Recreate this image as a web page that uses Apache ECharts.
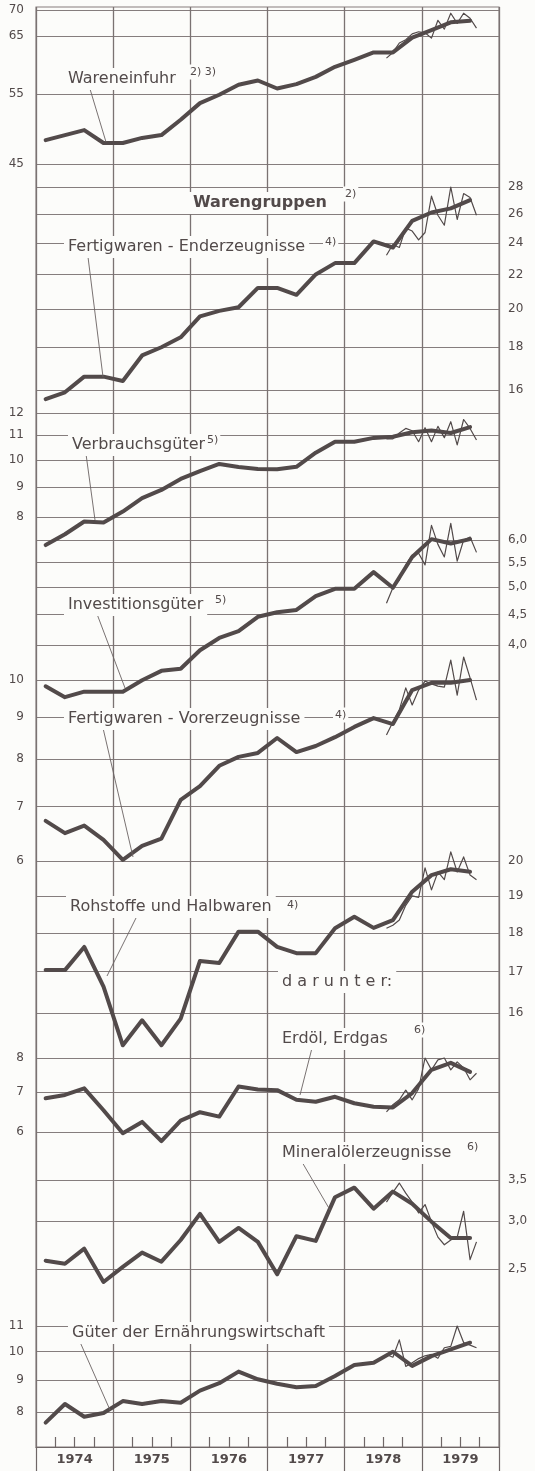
<!DOCTYPE html>
<html>
<head>
<meta charset="utf-8">
<script src="https://cdn.jsdelivr.net/npm/echarts@6/dist/echarts.min.js"></script>
<style>
  html, body { margin: 0; padding: 0; background: #fcfcfa; }
  #chart { width: 535px; height: 1471px; }
</style>
</head>
<body>
<div id="chart"></div>
<script>
// Jahre der x-Achse, Quartalswerte ab 1. Vj. 1974, Monatswerte ab Juli 1978
const years = ['1974', '1975', '1976', '1977', '1978', '1979'];
const monthStart = 54; // Juli 1978, Monate ab Jan 1974

const wareneinfuhr = [48.2, 48.9, 49.6, 47.8, 47.8, 48.5, 48.9, 51.1, 53.6, 54.9, 56.5, 57.2, 55.9, 56.6, 57.8, 59.5, 60.7, 62.0, 62.0, 64.7, 66.1, 67.6, 67.9];
const wareneinfuhrMonat = [61.0, 62.0, 63.7, 64.3, 65.4, 65.8, 65.6, 64.6, 68.0, 66.3, 69.4, 67.4, 69.4, 68.4, 66.5];

const enderzeugnisse = [15.6, 15.9, 16.6, 16.6, 16.4, 17.6, 18.0, 18.5, 19.6, 19.9, 20.1, 21.2, 21.2, 20.8, 22.0, 22.7, 22.7, 24.1, 23.7, 25.5, 26.1, 26.4, 27.0];
const enderzeugnisseMonat = [23.2, 23.9, 23.7, 25.0, 24.8, 24.2, 24.7, 27.3, 25.9, 25.2, 28.0, 25.6, 27.5, 27.2, 25.9];

const verbrauchsgueter = [7.17, 7.48, 7.86, 7.83, 8.17, 8.61, 8.89, 9.28, 9.57, 9.84, 9.72, 9.65, 9.64, 9.73, 10.28, 10.73, 10.73, 10.89, 10.94, 11.13, 11.21, 11.1, 11.36];
const verbrauchsgueterMonat = [10.85, 10.85, 11.1, 11.3, 11.2, 10.73, 11.33, 10.73, 11.39, 10.9, 11.6, 10.6, 11.7, 11.3, 10.8];

const investitionsgueter = [3.41, 3.27, 3.34, 3.34, 3.34, 3.49, 3.62, 3.65, 3.92, 4.11, 4.22, 4.46, 4.54, 4.58, 4.83, 4.97, 4.97, 5.30, 4.99, 5.62, 6.02, 5.92, 6.02];
const investitionsgueterMonat = [4.70, 4.99, 5.14, 5.45, 5.66, 5.70, 5.45, 6.35, 5.9, 5.62, 6.40, 5.53, 6.0, 6.07, 5.72];

const vorerzeugnisse = [6.72, 6.49, 6.63, 6.37, 6.02, 6.26, 6.39, 7.13, 7.41, 7.85, 8.05, 8.14, 8.49, 8.16, 8.30, 8.51, 8.76, 8.98, 8.83, 9.72, 9.92, 9.92, 10.0];
const vorerzeugnisseMonat = [8.56, 8.88, 9.19, 9.78, 9.32, 9.72, 9.97, 9.89, 9.83, 9.80, 10.58, 9.58, 10.67, 10.06, 9.45];

const rohstoffe = [17.04, 17.04, 17.63, 16.63, 15.26, 15.83, 15.26, 15.87, 17.27, 17.22, 18.03, 18.03, 17.63, 17.47, 17.47, 18.12, 18.43, 18.13, 18.34, 19.12, 19.59, 19.76, 19.69];
const rohstoffeMonat = [18.12, 18.2, 18.34, 18.74, 19.0, 18.96, 19.80, 19.17, 19.68, 19.46, 20.27, 19.68, 20.12, 19.59, 19.46];

const erdoel = [6.84, 6.93, 7.11, 6.53, 5.97, 6.24, 5.79, 6.27, 6.48, 6.37, 7.16, 7.08, 7.06, 6.80, 6.75, 6.88, 6.71, 6.62, 6.60, 6.98, 7.64, 7.85, 7.58];
const erdoelMonat = [6.49, 6.67, 6.80, 7.06, 6.80, 7.10, 8.0, 7.64, 7.94, 8.0, 7.64, 7.88, 7.70, 7.35, 7.54];

const mineraloel = [2.58, 2.55, 2.70, 2.38, 2.52, 2.66, 2.57, 2.79, 3.08, 2.77, 2.92, 2.77, 2.45, 2.83, 2.78, 3.28, 3.40, 3.14, 3.35, 3.20, 2.99, 2.81, 2.81];
const mineraloelMonat = [3.22, 3.34, 3.46, 3.33, 3.22, 3.09, 3.19, 2.99, 2.82, 2.74, 2.79, 2.82, 3.11, 2.59, 2.77];

const ernaehrung = [7.69, 8.24, 7.86, 7.97, 8.33, 8.24, 8.33, 8.28, 8.66, 8.90, 9.29, 9.03, 8.88, 8.77, 8.81, 9.14, 9.52, 9.60, 10.0, 9.49, 9.84, 10.09, 10.34];
const ernaehrungMonat = [9.9, 9.8, 10.45, 9.47, 9.6, 9.75, 9.85, 9.9, 9.76, 10.15, 10.2, 11.0, 10.35, 10.25, 10.15];

// Beschriftung der log. Achsen
const ticksWareneinfuhr = [70, 65, 55, 45];
const ticksEnderzeugnisse = [28, 26, 24, 22, 20, 18, 16];
const ticksVerbrauch = [12, 11, 10, 9, 8];
const ticksInvestition = [6, 5.5, 5, 4.5, 4];
const ticksVorerzeugnisse = [10, 9, 8, 7, 6];
const ticksRohstoffe = [20, 19, 18, 17, 16];
const ticksErdoel = [8, 7, 6];
const ticksMineraloel = [3.5, 3, 2.5];
const ticksErnaehrung = [11, 10, 9, 8];

const PLOT_TOP = 7, PLOT_BOTTOM = 1447;
const INK = '#524a4a', GRID = '#857d7d', BG = '#fcfcfa';
const FONT = '"DejaVu Sans", sans-serif';

// cal: zwei Achswerte und ihre Bildhöhe -> min/max der log. Achse
const panels = [
  { q: wareneinfuhr, m: wareneinfuhrMonat, ticks: ticksWareneinfuhr, side: 'left', cal: [65, 36, 45, 164] },
  { q: enderzeugnisse, m: enderzeugnisseMonat, ticks: ticksEnderzeugnisse, side: 'right', cal: [28, 187, 16, 390] },
  { q: verbrauchsgueter, m: verbrauchsgueterMonat, ticks: ticksVerbrauch, side: 'left', cal: [12, 413, 8, 517] },
  { q: investitionsgueter, m: investitionsgueterMonat, ticks: ticksInvestition, side: 'right', cal: [6, 540, 4, 645], dec: 1 },
  { q: vorerzeugnisse, m: vorerzeugnisseMonat, ticks: ticksVorerzeugnisse, side: 'left', cal: [10, 680, 6, 861] },
  { q: rohstoffe, m: rohstoffeMonat, ticks: ticksRohstoffe, side: 'right', cal: [20, 861, 16, 1013] },
  { q: erdoel, m: erdoelMonat, ticks: ticksErdoel, side: 'left', cal: [8, 1058, 6, 1132] },
  { q: mineraloel, m: mineraloelMonat, ticks: ticksMineraloel, side: 'right', cal: [3.5, 1180, 2.5, 1269], dec: 1 },
  { q: ernaehrung, m: ernaehrungMonat, ticks: ticksErnaehrung, side: 'left', cal: [11, 1326, 8, 1412] }
];

function logRange(v1, y1, v2, y2) {
  const k = (y2 - y1) / Math.log10(v1 / v2);
  return {
    max: v1 * Math.pow(10, (y1 - PLOT_TOP) / k),
    min: v2 / Math.pow(10, (PLOT_BOTTOM - y2) / k)
  };
}

const yAxes = panels.map(p => {
  const r = logRange(p.cal[0], p.cal[1], p.cal[2], p.cal[3]);
  return {
    type: 'log',
    logBase: 10,
    min: r.min,
    max: r.max,
    position: p.side,
    axisLine: { show: false },
    axisTick: { show: false, customValues: p.ticks },
    axisLabel: {
      customValues: p.ticks,
      margin: p.side === 'left' ? 12 : 9,
      color: INK,
      fontSize: 12,
      fontFamily: FONT,
      formatter: v => p.dec ? Number(v).toFixed(1).replace('.', ',') : String(Math.round(v))
    },
    splitLine: { show: true, lineStyle: { color: GRID, width: 1.1 } }
  };
});

const series = [];
panels.forEach((p, i) => {
  series.push({
    type: 'line', yAxisIndex: i, z: 2, symbol: 'none', silent: true,
    data: p.m.map((v, j) => [monthStart + j + 0.5, v]),
    lineStyle: { color: INK, width: 1.2, join: 'round' }
  });
  series.push({
    type: 'line', yAxisIndex: i, z: 3, symbol: 'none', silent: true,
    data: p.q.map((v, j) => [3 * j + 1.5, v]),
    lineStyle: { color: INK, width: 4, join: 'round', cap: 'round' }
  });
});

const yearCenters = years.map((y, i) => 12 * i + 6);
const quarterTicks = [];
years.forEach((y, i) => { [3, 6, 9].forEach(m => quarterTicks.push(12 * i + m)); });

// Beschriftungen mit Hinweislinien
const notes = [
  { text: 'Wareneinfuhr', x: 68, y: 79, sup: '2) 3)', sx: 190, sy: 72, line: [90, 89, 106, 142] },
  { text: 'Warengruppen', x: 193, y: 203, bold: true, sup: '2)', sx: 345, sy: 194 },
  { text: 'Fertigwaren - Enderzeugnisse', x: 68, y: 247, sup: '4)', sx: 325, sy: 242, line: [88, 257, 103, 377] },
  { text: 'Verbrauchsgüter', x: 72, y: 445, sup: '5)', sx: 207, sy: 440, line: [86, 454, 95, 520] },
  { text: 'Investitionsgüter', x: 68, y: 605, sup: '5)', sx: 215, sy: 600, line: [97, 614, 125, 688] },
  { text: 'Fertigwaren - Vorerzeugnisse', x: 68, y: 719, sup: '4)', sx: 335, sy: 715, line: [103, 728, 133, 857] },
  { text: 'Rohstoffe und Halbwaren', x: 70, y: 907, sup: '4)', sx: 287, sy: 905, line: [137, 916, 107, 976] },
  { text: 'd a r u n t e r:', x: 282, y: 982 },
  { text: 'Erdöl, Erdgas', x: 282, y: 1039, sup: '6)', sx: 414, sy: 1030, line: [312, 1048, 300, 1095] },
  { text: 'Mineralölerzeugnisse', x: 282, y: 1153, sup: '6)', sx: 467, sy: 1147, line: [302, 1162, 330, 1210] },
  { text: 'Güter der Ernährungswirtschaft', x: 72, y: 1333, line: [80, 1342, 110, 1410] }
];

const graphics = [];
notes.forEach(n => {
  if (n.line) {
    graphics.push({
      type: 'line', z: 90, silent: true,
      shape: { x1: n.line[0], y1: n.line[1], x2: n.line[2], y2: n.line[3] },
      style: { stroke: '#6a6262', lineWidth: 0.9 }
    });
  }
  graphics.push({
    type: 'text', x: n.x - 4, y: n.y, z: 100, silent: true,
    style: {
      text: n.text, fill: INK, verticalAlign: 'middle',
      font: (n.bold ? 'bold ' : '') + '16px ' + FONT,
      backgroundColor: BG, padding: [3, 4]
    }
  });
  if (n.sup) {
    graphics.push({
      type: 'text', x: n.sx - 2, y: n.sy, z: 100, silent: true,
      style: {
        text: n.sup, fill: INK, verticalAlign: 'middle',
        font: '11px ' + FONT, backgroundColor: BG, padding: [2, 2]
      }
    });
  }
});

const chart = echarts.init(document.getElementById('chart'));
chart.setOption({
  animation: false,
  backgroundColor: BG,
  grid: {
    left: 36, right: 36, top: PLOT_TOP, height: PLOT_BOTTOM - PLOT_TOP,
    show: true, borderColor: GRID, borderWidth: 1.1
  },
  xAxis: [
    {
      type: 'value', min: 0, max: 72, interval: 12, position: 'bottom',
      axisLine: { show: true, onZero: false, lineStyle: { color: '#6f6767', width: 1.2 } },
      axisTick: { show: true, inside: false, length: 24, lineStyle: { color: '#6f6767', width: 1.2 } },
      axisLabel: {
        customValues: yearCenters,
        formatter: v => years[Math.round((v - 6) / 12)],
        margin: 6, fontSize: 13, fontWeight: 'bold', color: INK, fontFamily: FONT
      },
      splitLine: { show: true, lineStyle: { color: '#7a7272', width: 1.3 } }
    },
    {
      type: 'value', min: 0, max: 72, position: 'bottom',
      axisLine: { show: false, onZero: false },
      axisLabel: { show: false },
      splitLine: { show: false },
      axisTick: { show: true, inside: true, length: 10, customValues: quarterTicks, lineStyle: { color: '#6f6767', width: 1.2 } }
    }
  ],
  yAxis: yAxes,
  series: series,
  graphic: graphics
});
</script>
</body>
</html>
